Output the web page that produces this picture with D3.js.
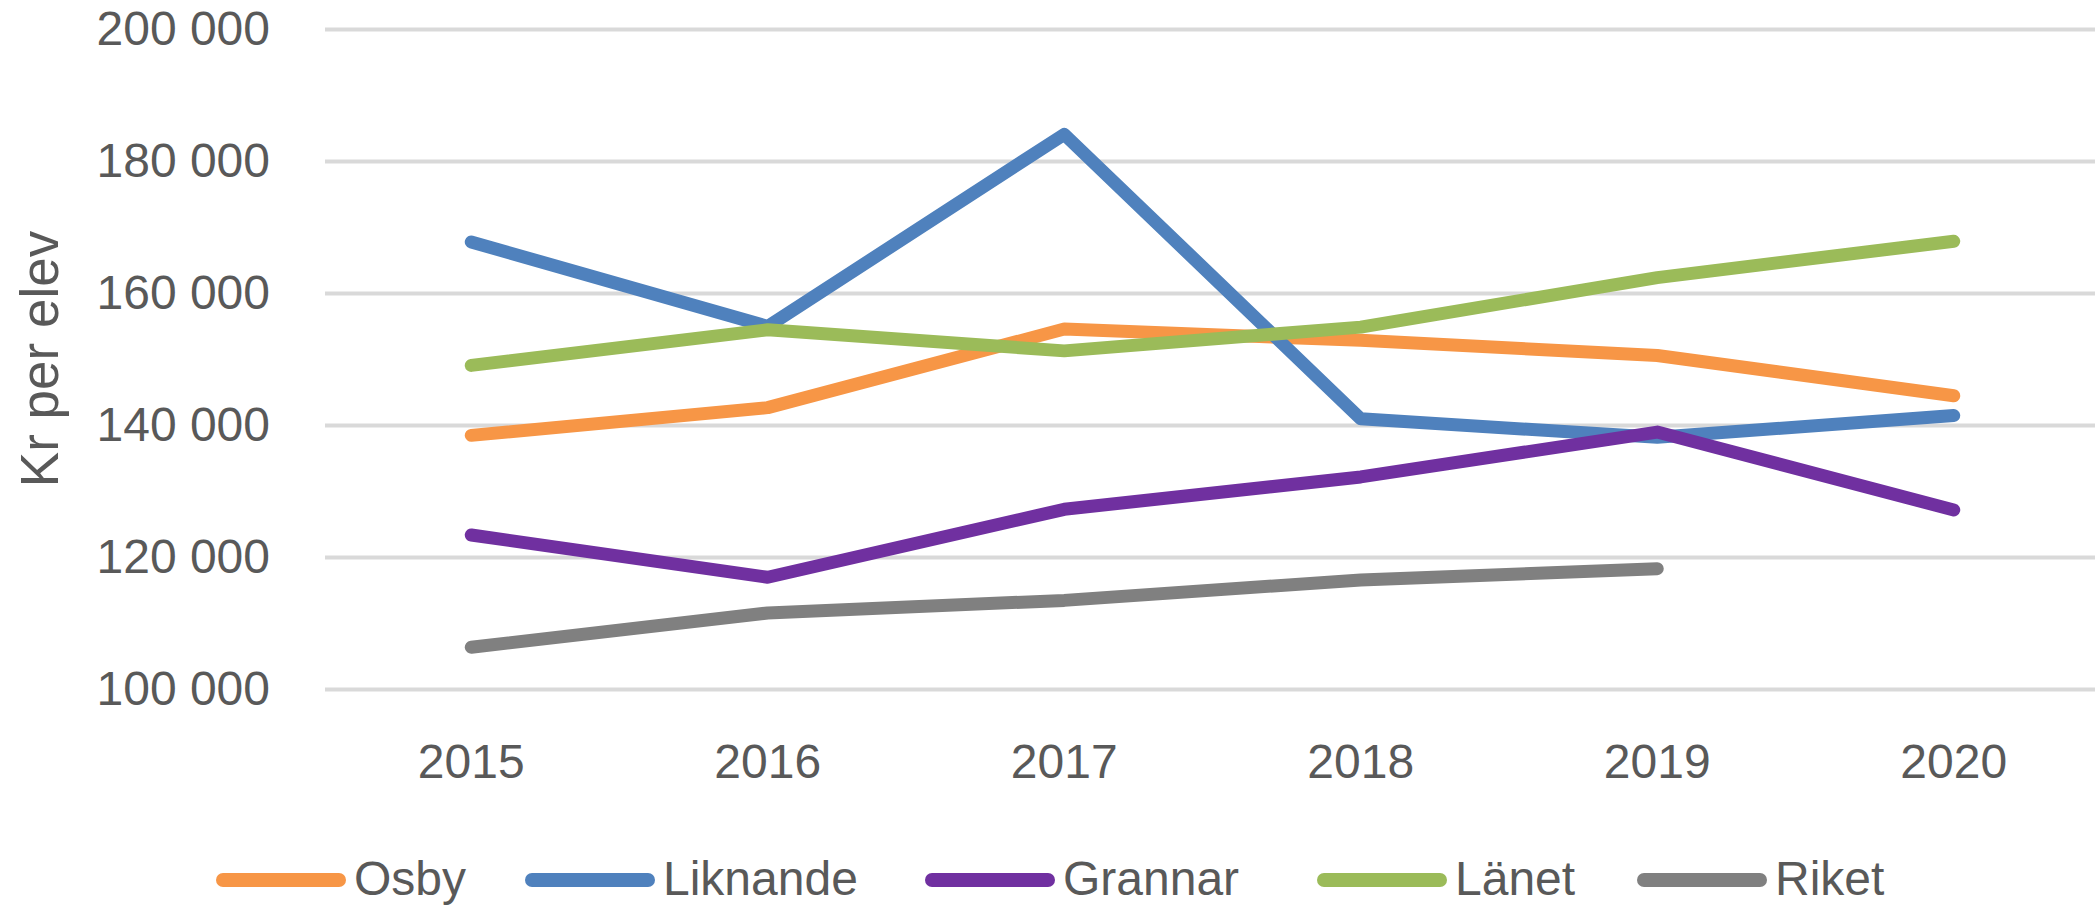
<!DOCTYPE html>
<html>
<head>
<meta charset="utf-8">
<script src="https://cdn.jsdelivr.net/npm/d3@7"></script>
<style>
  body { margin: 0; background: #fff; }
  svg { display: block; font-family: "Liberation Sans", Arial, sans-serif; }
</style>
</head>
<body>
<svg class="board" width="2095" height="906"></svg>
<script>
// values, kr per elev
var years = ['2015', '2016', '2017', '2018', '2019', '2020'];
var osby = [138500, 142700, 154600, 152900, 150600, 144500];
var liknande = [167800, 155000, 184100, 141000, 138200, 141500];
var grannar = [123400, 117000, 127300, 132200, 139000, 127200];
var lanet = [149100, 154500, 151300, 154900, 162400, 167900];
var riket = [106400, 111600, 113500, 116600, 118300, null];

var seriesNames = ['Osby', 'Liknande', 'Grannar', 'Länet', 'Riket'];
var seriesColors = ['#F79646', '#4F81BD', '#7030A0', '#9BBB59', '#808080'];
var yTicks = [100000, 120000, 140000, 160000, 180000, 200000];
var yTitle = 'Kr per elev';

var series = [osby, liknande, grannar, lanet, riket].map(function (vals, i) {
  return { name: seriesNames[i], color: seriesColors[i], values: vals };
});

var width = 2095;
var textColor = '#595959';
var fontSize = 48;

var svg = d3.select('.board');

var x = d3.scaleBand().domain(years).range([323, 2102]).padding(0);
var y = d3.scaleLinear().domain([100000, 200000]).range([689.5, 29.4]);

var fmt = function (v) {
  return d3.format(',')(v).replace(/,/g, ' ');
};

// gridlines
svg.append('g')
  .selectAll('line')
  .data(yTicks)
  .enter()
  .append('line')
  .attr('x1', 325)
  .attr('x2', width)
  .attr('y1', d => y(d))
  .attr('y2', d => y(d))
  .attr('stroke', '#D9D9D9')
  .attr('stroke-width', 4);

// y axis labels
var yAxis = svg.append('g')
  .attr('transform', 'translate(288,0)')
  .call(d3.axisLeft(y).tickValues(yTicks).tickFormat(fmt).tickSize(0).tickPadding(18));
yAxis.select('.domain').remove();
yAxis.selectAll('text')
  .attr('fill', textColor)
  .attr('font-size', fontSize)
  .attr('font-family', '"Liberation Sans", Arial, sans-serif');

// x axis labels
var xAxis = svg.append('g')
  .attr('transform', 'translate(0,778)')
  .call(d3.axisBottom(x).tickSize(0).tickPadding(0));
xAxis.select('.domain').remove();
xAxis.selectAll('text')
  .attr('dy', 0)
  .attr('fill', textColor)
  .attr('font-size', fontSize)
  .attr('font-family', '"Liberation Sans", Arial, sans-serif');

// y axis title
svg.append('text')
  .attr('transform', 'translate(58,359) rotate(-90)')
  .attr('text-anchor', 'middle')
  .attr('fill', textColor)
  .attr('font-size', 53)
  .text(yTitle);

// lines
var line = d3.line()
  .defined(d => d[1] != null)
  .x(d => x(d[0]) + x.bandwidth() / 2)
  .y(d => y(d[1]));

svg.append('g')
  .selectAll('path')
  .data(series)
  .enter()
  .append('path')
  .attr('d', s => line(years.map((yr, i) => [yr, s.values[i]])))
  .attr('fill', 'none')
  .attr('stroke', s => s.color)
  .attr('stroke-width', 13)
  .attr('stroke-linejoin', 'round')
  .attr('stroke-linecap', 'round');

// legend
var legendX = [216, 525, 925, 1317, 1637];
var legend = svg.append('g')
  .selectAll('g')
  .data(series)
  .enter()
  .append('g')
  .attr('transform', (s, i) => `translate(${legendX[i]},880)`);

legend.append('line')
  .attr('x1', 7)
  .attr('x2', 123)
  .attr('stroke', s => s.color)
  .attr('stroke-width', 14)
  .attr('stroke-linecap', 'round');

legend.append('text')
  .attr('x', 138)
  .attr('y', 15)
  .attr('fill', textColor)
  .attr('font-size', fontSize)
  .text(s => s.name);
</script>
</body>
</html>
